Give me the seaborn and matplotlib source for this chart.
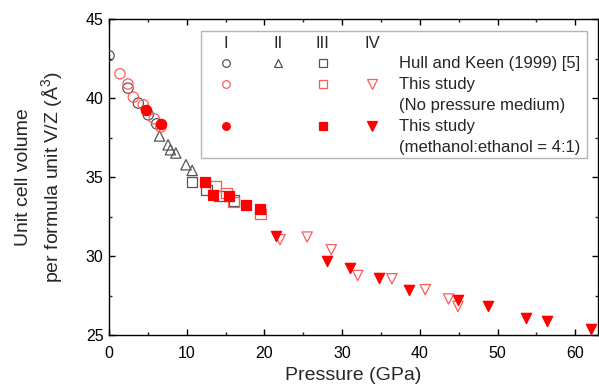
import matplotlib
matplotlib.use("Agg")
import matplotlib.pyplot as plt
import seaborn as sns
import pandas as pd
from matplotlib.patches import Rectangle
from matplotlib.ticker import MultipleLocator

# ---- data ----
hull_I_p = [0.0, 2.44, 3.77, 5.05, 6.13]
hull_I_v = [42.68, 40.63, 39.68, 38.94, 38.37]
hull_II_p = [6.5, 7.6, 7.9, 8.6, 9.9, 10.7]
hull_II_v = [37.6, 37.04, 36.73, 36.52, 35.78, 35.42]
hull_III_p = [10.7, 12.55, 14.2, 16.1]
hull_III_v = [34.68, 34.2, 33.82, 33.52]

open_I_p = [1.41, 2.44, 3.13, 4.41, 5.82, 6.67]
open_I_v = [41.54, 40.89, 40.06, 39.58, 38.69, 38.16]
open_III_p = [13.7, 15.1, 16.0, 19.5]
open_III_v = [34.45, 33.97, 33.4, 32.66]
open_IV_p = [22.0, 25.5, 28.6, 32.0, 36.4, 40.7, 43.7, 44.9]
open_IV_v = [31.03, 31.2, 30.4, 28.77, 28.56, 27.87, 27.28, 26.81]

fill_I_p = [4.71, 6.67]
fill_I_v = [39.26, 38.37]
fill_III_p = [12.4, 13.4, 15.4, 17.6, 19.4]
fill_III_v = [34.68, 33.88, 33.82, 33.2, 33.0]
fill_IV_p = [21.5, 28.1, 31.0, 34.7, 38.6, 44.9, 48.8, 53.6, 56.3, 62.0]
fill_IV_v = [31.28, 29.66, 29.24, 28.6, 27.87, 27.23, 26.81, 26.1, 25.86, 25.4]

phase_labels = ["I", "II", "III", "IV"]
legend_texts = ["Hull and Keen (1999) [5]", "This study", "(No pressure medium)",
                "This study", "(methanol:ethanol = 4:1)"]

GRAY = "#555555"
LRED = "#ff5a5a"
RED = "#ff0000"

sns.set_theme(style="ticks")
plt.rcParams["font.family"] = ["Liberation Sans", "DejaVu Sans"]
plt.rcParams["mathtext.fontset"] = "custom"
plt.rcParams["mathtext.rm"] = "Liberation Sans"
plt.rcParams["mathtext.it"] = "Liberation Sans"

fig = plt.figure(figsize=(5.99, 3.90), dpi=100)
ax = fig.add_axes([0.182, 0.141, 0.816, 0.810])

S = 55
series = [
    (hull_I_p, hull_I_v, "o", "none", GRAY),
    (hull_II_p, hull_II_v, "^", "none", GRAY),
    (hull_III_p, hull_III_v, "s", "none", GRAY),
    (open_I_p, open_I_v, "o", "none", LRED),
    (open_III_p, open_III_v, "s", "none", LRED),
    (open_IV_p, open_IV_v, "v", "none", LRED),
    (fill_I_p, fill_I_v, "o", RED, RED),
    (fill_III_p, fill_III_v, "s", RED, RED),
    (fill_IV_p, fill_IV_v, "v", RED, RED),
]
for p, v, m, fc, ec in series:
    df = pd.DataFrame({"P": p, "V": v})
    sns.scatterplot(data=df, x="P", y="V", marker=m, s=S, facecolors=fc,
                    edgecolors=ec, linewidths=0.9, ax=ax, legend=False, zorder=3)

ax.set_xlim(0, 62.9)
ax.set_ylim(25, 45)
ax.xaxis.set_major_locator(MultipleLocator(10))
ax.xaxis.set_minor_locator(MultipleLocator(5))
ax.yaxis.set_major_locator(MultipleLocator(5))
ax.yaxis.set_minor_locator(MultipleLocator(2.5))
ax.tick_params(which="major", direction="in", length=4, width=1, top=True, right=True,
               labelsize=11.5, colors="black", pad=4)
ax.tick_params(axis="x", which="major", pad=8)
ax.tick_params(which="minor", direction="in", length=2.5, width=1, top=True, right=True)
for sp in ax.spines.values():
    sp.set_linewidth(1.0)
    sp.set_color("black")

ax.set_xlabel("Pressure (GPa)", fontsize=14, labelpad=4)
ax.set_ylabel("Unit cell volume\nper formula unit V/Z (Å$^{3}$)", fontsize=14,
              labelpad=15, linespacing=1.35)

# ---- custom legend box (axes coordinates) ----
def ax_x(px):
    return (px - 109) / (598 - 109)

def ax_y(py):
    return (335 - py) / (335 - 19)

tr = ax.transAxes
ax.add_patch(Rectangle((ax_x(201), ax_y(158)), ax_x(587) - ax_x(201), ax_y(31) - ax_y(158),
                       transform=tr, facecolor="white", edgecolor="#b5b5b5",
                       linewidth=1.0, zorder=4))
col_x = [226, 278, 323, 372]
for lab, cx in zip(phase_labels, col_x):
    ax.text(ax_x(cx), ax_y(43), lab, transform=tr, ha="center", va="center",
            fontsize=12, zorder=5)

ms = 5.5
leg_marks = [
    (0, 63, "o", "none", GRAY), (1, 63, "^", "none", GRAY), (2, 63, "s", "none", GRAY),
    (0, 84, "o", "none", LRED), (2, 84, "s", "none", LRED), (3, 84, "v", "none", LRED),
    (0, 126, "o", RED, RED), (2, 126, "s", RED, RED), (3, 126, "v", RED, RED),
]
for ci, py, m, fc, ec in leg_marks:
    ax.plot([ax_x(col_x[ci])], [ax_y(py)], marker=m, markersize=ms if m != "v" else ms + 1,
            markerfacecolor=fc, markeredgecolor=ec, markeredgewidth=0.9,
            linestyle="none", transform=tr, zorder=5)

text_y = [63, 84, 105, 126, 147]
for t, py in zip(legend_texts, text_y):
    ax.text(ax_x(399), ax_y(py), t, transform=tr, ha="left", va="center",
            fontsize=12, zorder=5)

fig.savefig("out.png", dpi=100)
